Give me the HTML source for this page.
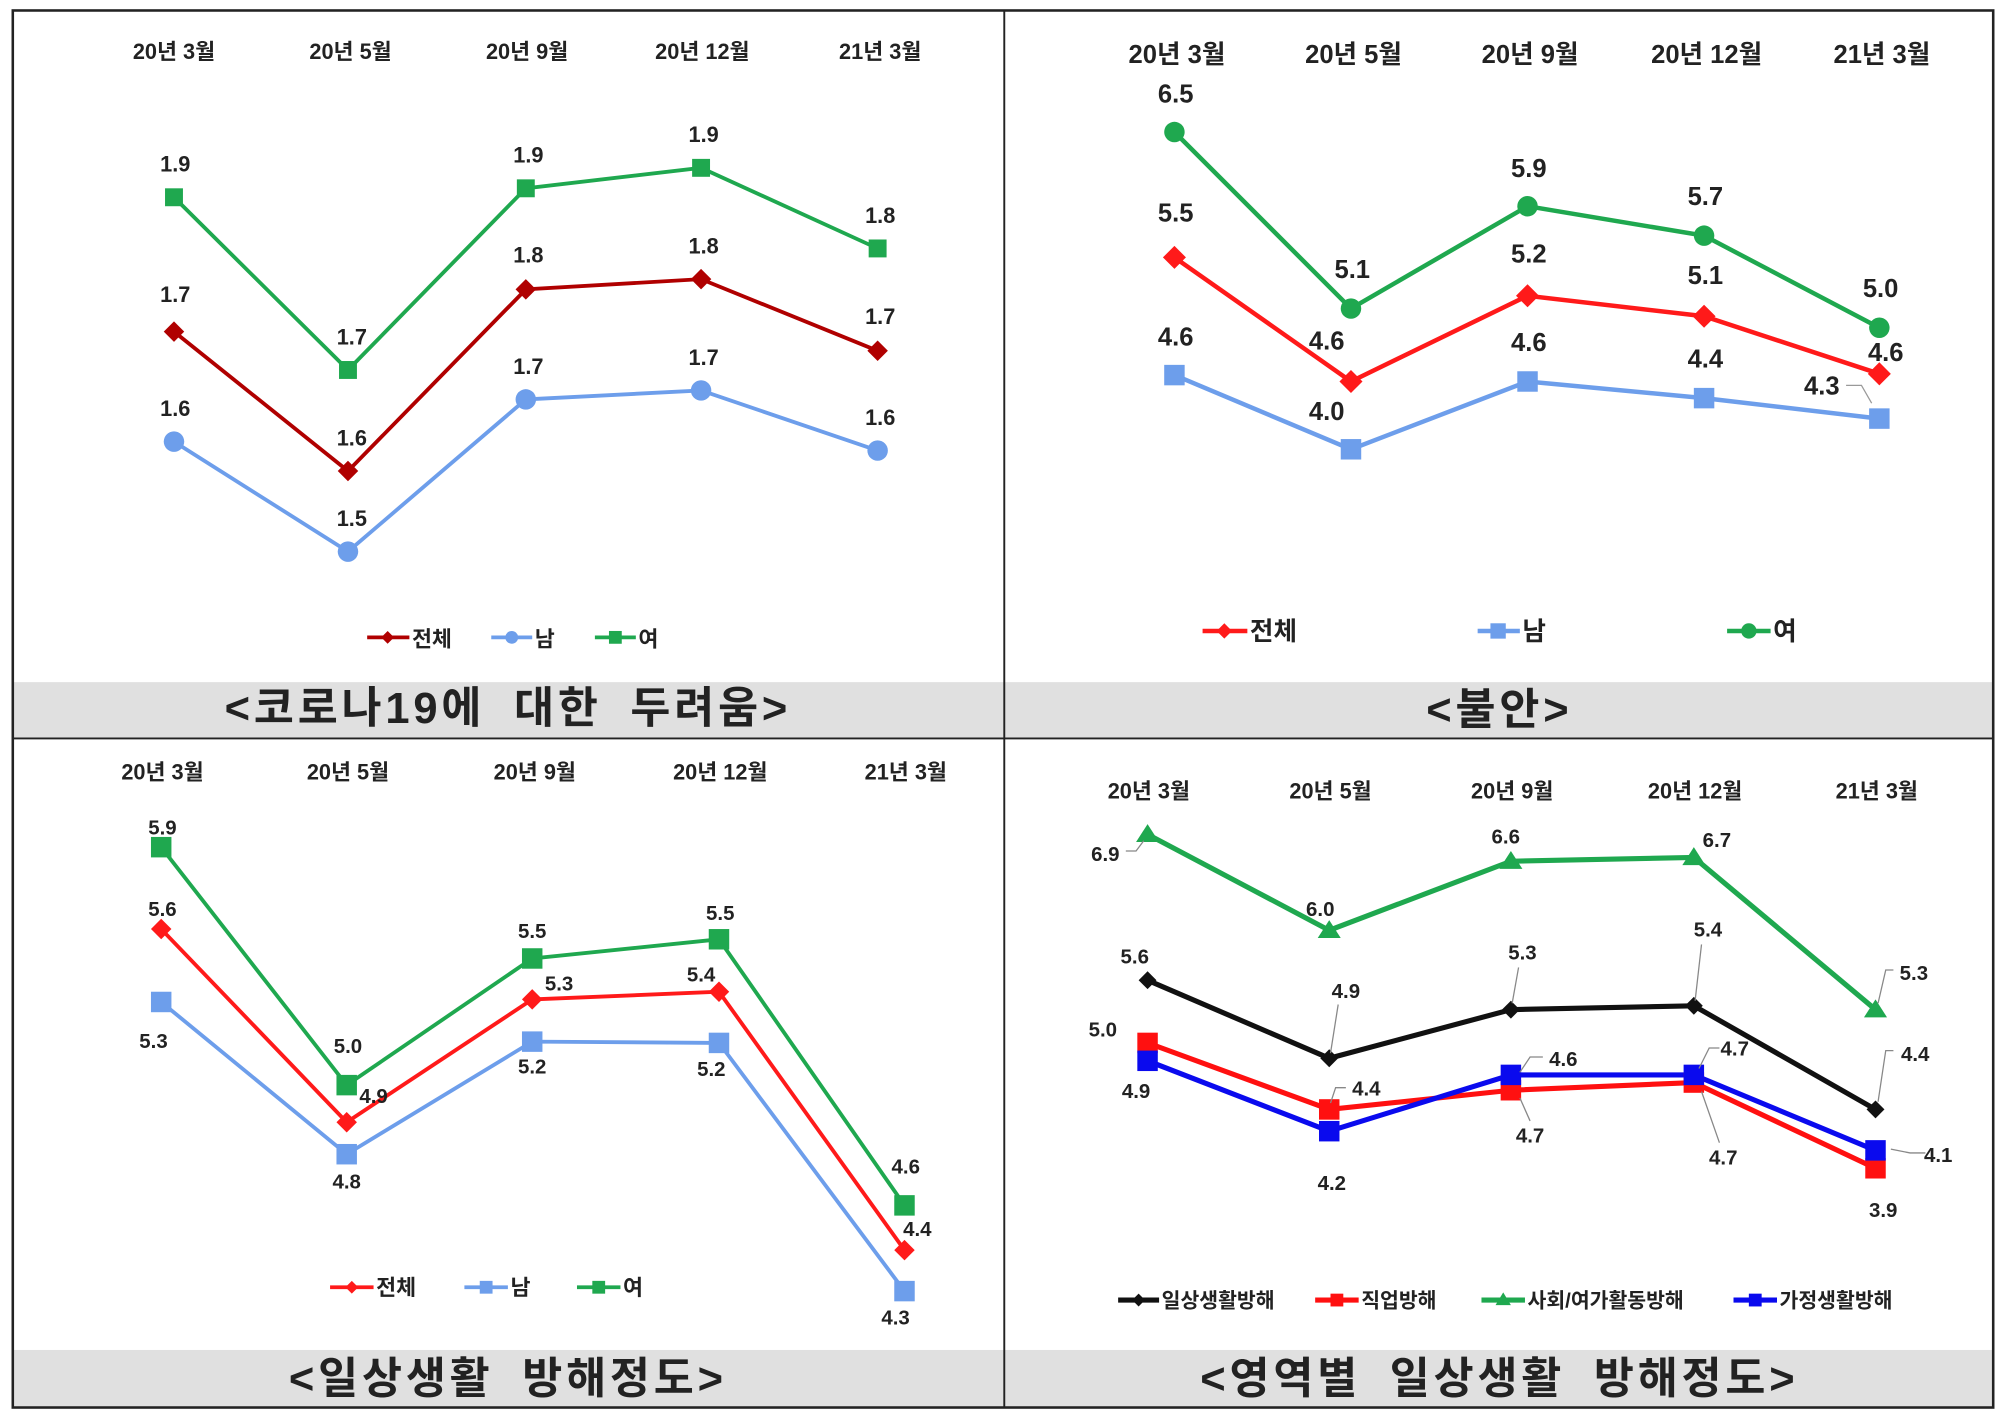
<!DOCTYPE html>
<html><head><meta charset="utf-8"><style>
html,body{margin:0;padding:0;background:#fff}
svg{display:block}
text{font-family:"Liberation Sans","Noto Sans CJK KR",sans-serif;font-weight:bold;fill:#222}
.tt{letter-spacing:3px;word-spacing:10px}
</style></head><body>
<svg width="2006" height="1418" viewBox="0 0 1568 1108" xmlns="http://www.w3.org/2000/svg">
<rect x="0" y="0" width="1568" height="1108" fill="#fff"/>
<rect x="10" y="533" width="1548" height="44" fill="#e0e0e0"/>
<rect x="10" y="1055" width="1548" height="45" fill="#e0e0e0"/>
<rect x="10" y="8" width="1548" height="1092" fill="none" stroke="#222" stroke-width="2"/>
<line x1="785" y1="8" x2="785" y2="1100" stroke="#222" stroke-width="1.5"/>
<line x1="10" y1="577" x2="1558" y2="577" stroke="#222" stroke-width="1.5"/>

<g font-size="34" text-anchor="middle" class="tt">
<text x="397" y="565">&lt;코로나19에 대한 두려움&gt;</text>
<text x="1172" y="566">&lt;불안&gt;</text>
<text x="397" y="1089">&lt;일상생활 방해정도&gt;</text>
<text x="1172" y="1089">&lt;영역별 일상생활 방해정도&gt;</text>
</g>

<!-- TL -->
<g font-size="17" text-anchor="middle">
<text x="136" y="46">20년 3월</text><text x="274" y="46">20년 5월</text><text x="412" y="46">20년 9월</text><text x="549" y="46">20년 12월</text><text x="688" y="46">21년 3월</text>
</g>
<polyline points="136,154 272,289 411,147 548,131 686,194" fill="none" stroke="#1fa84f" stroke-width="3"/>
<polyline points="136,259 272,368 411,226 548,218 686,274" fill="none" stroke="#b00000" stroke-width="3"/>
<polyline points="136,345 272,431 411,312 548,305 686,352" fill="none" stroke="#6d9eeb" stroke-width="3"/>
<g fill="#1fa84f"><rect x="129" y="147" width="14" height="14"/><rect x="265" y="282" width="14" height="14"/><rect x="404" y="140" width="14" height="14"/><rect x="541" y="124" width="14" height="14"/><rect x="679" y="187" width="14" height="14"/></g>
<g fill="#b00000"><path d="M136,251l8,8-8,8-8-8z"/><path d="M272,360l8,8-8,8-8-8z"/><path d="M411,218l8,8-8,8-8-8z"/><path d="M548,210l8,8-8,8-8-8z"/><path d="M686,266l8,8-8,8-8-8z"/></g>
<g fill="#6d9eeb"><circle cx="136" cy="345" r="8"/><circle cx="272" cy="431" r="8"/><circle cx="411" cy="312" r="8"/><circle cx="548" cy="305" r="8"/><circle cx="686" cy="352" r="8"/></g>
<g font-size="17" text-anchor="middle">
<text x="137" y="134">1.9</text><text x="275" y="269">1.7</text><text x="413" y="127">1.9</text><text x="550" y="111">1.9</text><text x="688" y="174">1.8</text>
<text x="137" y="236">1.7</text><text x="275" y="348">1.6</text><text x="413" y="205">1.8</text><text x="550" y="198">1.8</text><text x="688" y="253">1.7</text>
<text x="137" y="325">1.6</text><text x="275" y="411">1.5</text><text x="413" y="292">1.7</text><text x="550" y="285">1.7</text><text x="688" y="332">1.6</text>
</g>
<g font-size="17">
<line x1="287" y1="498" x2="320" y2="498" stroke="#b00000" stroke-width="3"/><path d="M303,493l5,5-5,5-5-5z" fill="#b00000"/><text x="322" y="505">전체</text>
<line x1="384" y1="498" x2="416" y2="498" stroke="#6d9eeb" stroke-width="3"/><circle cx="400" cy="498" r="5" fill="#6d9eeb"/><text x="418" y="505">남</text>
<line x1="465" y1="498" x2="497" y2="498" stroke="#1fa84f" stroke-width="3"/><rect x="476" y="493" width="10" height="10" fill="#1fa84f"/><text x="499" y="505">여</text>
</g>

<!-- TR -->
<g font-size="20" text-anchor="middle">
<text x="920" y="49">20년 3월</text><text x="1058" y="49">20년 5월</text><text x="1196" y="49">20년 9월</text><text x="1334" y="49">20년 12월</text><text x="1471" y="49">21년 3월</text>
</g>
<polyline points="918,103 1056,241 1194,161 1332,184 1469,256" fill="none" stroke="#1fa84f" stroke-width="3.5"/>
<polyline points="918,201 1056,298 1194,231 1332,247 1469,292" fill="none" stroke="#ff1a1a" stroke-width="3.5"/>
<polyline points="918,293 1056,351 1194,298 1332,311 1469,327" fill="none" stroke="#6d9eeb" stroke-width="3.5"/>
<g fill="#1fa84f"><circle cx="918" cy="103" r="8"/><circle cx="1056" cy="241" r="8"/><circle cx="1194" cy="161" r="8"/><circle cx="1332" cy="184" r="8"/><circle cx="1469" cy="256" r="8"/></g>
<g fill="#ff1a1a"><path d="M918,192l9,9-9,9-9-9z"/><path d="M1056,289l9,9-9,9-9-9z"/><path d="M1194,222l9,9-9,9-9-9z"/><path d="M1332,238l9,9-9,9-9-9z"/><path d="M1469,283l9,9-9,9-9-9z"/></g>
<g fill="#6d9eeb"><rect x="910" y="285" width="16" height="16"/><rect x="1048" y="343" width="16" height="16"/><rect x="1186" y="290" width="16" height="16"/><rect x="1324" y="303" width="16" height="16"/><rect x="1461" y="319" width="16" height="16"/></g>
<g font-size="20" text-anchor="middle" font-weight="normal">
<text x="919" y="80">6.5</text><text x="1057" y="217">5.1</text><text x="1195" y="138">5.9</text><text x="1333" y="160">5.7</text><text x="1470" y="232">5.0</text>
<text x="919" y="173">5.5</text><text x="1037" y="273">4.6</text><text x="1195" y="205">5.2</text><text x="1333" y="222">5.1</text><text x="1474" y="282">4.6</text>
<text x="919" y="270">4.6</text><text x="1037" y="328">4.0</text><text x="1195" y="274">4.6</text><text x="1333" y="287">4.4</text><text x="1424" y="308">4.3</text>
</g>
<polyline points="1443,301 1455,301 1463,315" fill="none" stroke="#999" stroke-width="1"/>
<g font-size="20">
<line x1="940" y1="493" x2="975" y2="493" stroke="#ff1a1a" stroke-width="3.5"/><path d="M957,487l6,6-6,6-6-6z" fill="#ff1a1a"/><text x="977" y="500">전체</text>
<line x1="1155" y1="493" x2="1188" y2="493" stroke="#6d9eeb" stroke-width="3.5"/><rect x="1165" y="487" width="12" height="12" fill="#6d9eeb"/><text x="1190" y="500">남</text>
<line x1="1350" y1="493" x2="1384" y2="493" stroke="#1fa84f" stroke-width="3.5"/><circle cx="1367" cy="493" r="6" fill="#1fa84f"/><text x="1386" y="500">여</text>
</g>

<!-- BL -->
<g font-size="17" text-anchor="middle">
<text x="127" y="609">20년 3월</text><text x="272" y="609">20년 5월</text><text x="418" y="609">20년 9월</text><text x="563" y="609">20년 12월</text><text x="708" y="609">21년 3월</text>
</g>
<polyline points="126,662 271,848 416,749 562,734 707,942" fill="none" stroke="#1fa84f" stroke-width="3"/>
<polyline points="126,726 271,877 416,781 562,775 707,977" fill="none" stroke="#ff1a1a" stroke-width="3"/>
<polyline points="126,783 271,902 416,814 562,815 707,1009" fill="none" stroke="#6d9eeb" stroke-width="3"/>
<g fill="#1fa84f"><rect x="118" y="654" width="16" height="16"/><rect x="263" y="840" width="16" height="16"/><rect x="408" y="741" width="16" height="16"/><rect x="554" y="726" width="16" height="16"/><rect x="699" y="934" width="16" height="16"/></g>
<g fill="#ff1a1a"><path d="M126,718l8,8-8,8-8-8z"/><path d="M271,869l8,8-8,8-8-8z"/><path d="M416,773l8,8-8,8-8-8z"/><path d="M562,767l8,8-8,8-8-8z"/><path d="M707,969l8,8-8,8-8-8z"/></g>
<g fill="#6d9eeb"><rect x="118" y="775" width="16" height="16"/><rect x="263" y="894" width="16" height="16"/><rect x="408" y="806" width="16" height="16"/><rect x="554" y="807" width="16" height="16"/><rect x="699" y="1001" width="16" height="16"/></g>
<g font-size="16" text-anchor="middle" font-weight="normal">
<text x="127" y="652">5.9</text><text x="272" y="823">5.0</text><text x="416" y="733">5.5</text><text x="563" y="719">5.5</text><text x="708" y="917">4.6</text>
<text x="127" y="716">5.6</text><text x="292" y="862">4.9</text><text x="437" y="774">5.3</text><text x="548" y="767">5.4</text><text x="717" y="966">4.4</text>
<text x="120" y="819">5.3</text><text x="271" y="929">4.8</text><text x="416" y="839">5.2</text><text x="556" y="841">5.2</text><text x="700" y="1035">4.3</text>
</g>
<g font-size="17">
<line x1="258" y1="1006" x2="292" y2="1006" stroke="#ff1a1a" stroke-width="3"/><path d="M275,1001l5,5-5,5-5-5z" fill="#ff1a1a"/><text x="294" y="1012">전체</text>
<line x1="363" y1="1006" x2="397" y2="1006" stroke="#6d9eeb" stroke-width="3"/><rect x="375" y="1001" width="10" height="10" fill="#6d9eeb"/><text x="399" y="1012">남</text>
<line x1="451" y1="1006" x2="485" y2="1006" stroke="#1fa84f" stroke-width="3"/><rect x="463" y="1001" width="10" height="10" fill="#1fa84f"/><text x="487" y="1012">여</text>
</g>

<!-- BR -->
<g font-size="17" text-anchor="middle">
<text x="898" y="624">20년 3월</text><text x="1040" y="624">20년 5월</text><text x="1182" y="624">20년 9월</text><text x="1325" y="624">20년 12월</text><text x="1467" y="624">21년 3월</text>
</g>
<polyline points="897,652 1039,727 1181,673 1324,670 1466,789" fill="none" stroke="#1fa84f" stroke-width="4"/>
<polyline points="897,766 1039,827 1181,789 1324,786 1466,867" fill="none" stroke="#111" stroke-width="4"/>
<polyline points="897,815 1039,867 1181,852 1324,846 1466,913" fill="none" stroke="#ff1010" stroke-width="4"/>
<polyline points="897,829 1039,884 1181,840 1324,840 1466,899" fill="none" stroke="#0a0aee" stroke-width="4"/>
<g fill="#1fa84f"><path d="M897,644l9,14h-18z"/><path d="M1039,719l9,14h-18z"/><path d="M1181,665l9,14h-18z"/><path d="M1324,662l9,14h-18z"/><path d="M1466,781l9,14h-18z"/></g>
<g fill="#111"><path d="M897,759l7,7-7,7-7-7z"/><path d="M1039,820l7,7-7,7-7-7z"/><path d="M1181,782l7,7-7,7-7-7z"/><path d="M1324,779l7,7-7,7-7-7z"/><path d="M1466,860l7,7-7,7-7-7z"/></g>
<g fill="#ff1010"><rect x="889" y="807" width="16" height="16"/><rect x="1031" y="859" width="16" height="16"/><rect x="1173" y="844" width="16" height="16"/><rect x="1316" y="838" width="16" height="16"/><rect x="1458" y="905" width="16" height="16"/></g>
<g fill="#0a0aee"><rect x="889" y="821" width="16" height="16"/><rect x="1031" y="876" width="16" height="16"/><rect x="1173" y="832" width="16" height="16"/><rect x="1316" y="832" width="16" height="16"/><rect x="1458" y="891" width="16" height="16"/></g>
<g font-size="16" font-weight="normal" text-anchor="middle">
<text x="864" y="673">6.9</text><text x="1032" y="716">6.0</text><text x="1177" y="659">6.6</text><text x="1342" y="662">6.7</text><text x="1496" y="766">5.3</text>
<text x="887" y="753">5.6</text><text x="1052" y="780">4.9</text><text x="1190" y="750">5.3</text><text x="1335" y="732">5.4</text><text x="1497" y="829">4.4</text>
<text x="862" y="810">5.0</text><text x="1068" y="856">4.4</text><text x="1196" y="893">4.7</text><text x="1347" y="910">4.7</text><text x="1472" y="951">3.9</text>
<text x="888" y="858">4.9</text><text x="1041" y="930">4.2</text><text x="1222" y="833">4.6</text><text x="1356" y="825">4.7</text><text x="1515" y="908">4.1</text>
</g>
<g stroke="#888" stroke-width="1" fill="none">
<path d="M880,665h8l6,-8"/><path d="M1046,785l-6,38"/><path d="M1187,756l-5,28"/><path d="M1330,738l-5,44"/><path d="M1480,758h-6l-6,26"/><path d="M1480,821h-6l-6,40"/><path d="M1052,850h-8l-4,12"/><path d="M1206,826h-10l-8,12"/><path d="M1344,819h-8l-8,16"/><path d="M1196,876l-8,-18"/><path d="M1344,893l-14,-40"/><path d="M1505,901h-12l-15,-3"/>
</g>
<g font-size="16">
<line x1="874" y1="1016" x2="906" y2="1016" stroke="#111" stroke-width="4"/><path d="M890,1011l5,5-5,5-5-5z" fill="#111"/><text x="908" y="1022" font-weight="normal">일상생활방해</text>
<line x1="1028" y1="1016" x2="1062" y2="1016" stroke="#ff1010" stroke-width="4"/><rect x="1040" y="1011" width="10" height="10" fill="#ff1010"/><text x="1064" y="1022" font-weight="normal">직업방해</text>
<line x1="1158" y1="1016" x2="1192" y2="1016" stroke="#1fa84f" stroke-width="4"/><path d="M1175,1010l6,10h-12z" fill="#1fa84f"/><text x="1194" y="1022" font-weight="normal">사회/여가활동방해</text>
<line x1="1355" y1="1016" x2="1389" y2="1016" stroke="#0a0aee" stroke-width="4"/><rect x="1367" y="1011" width="10" height="10" fill="#0a0aee"/><text x="1391" y="1022" font-weight="normal">가정생활방해</text>
</g>
</svg>
</body></html>
